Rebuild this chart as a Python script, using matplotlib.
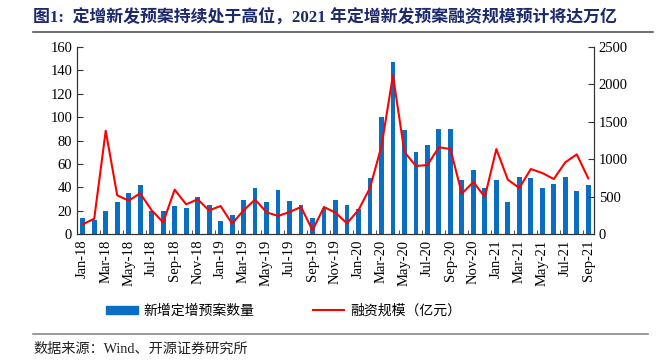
import matplotlib
matplotlib.use("Agg")
import matplotlib.pyplot as plt
from matplotlib.lines import Line2D
from matplotlib.patches import Patch
import numpy as np

plt.rcParams["font.family"] = ["Liberation Serif", "Noto Sans CJK SC"]

# =============================================================================
# Data
# =============================================================================
months = ["Jan-18", "Feb-18", "Mar-18", "Apr-18", "May-18", "Jun-18",
          "Jul-18", "Aug-18", "Sep-18", "Oct-18", "Nov-18", "Dec-18",
          "Jan-19", "Feb-19", "Mar-19", "Apr-19", "May-19", "Jun-19",
          "Jul-19", "Aug-19", "Sep-19", "Oct-19", "Nov-19", "Dec-19",
          "Jan-20", "Feb-20", "Mar-20", "Apr-20", "May-20", "Jun-20",
          "Jul-20", "Aug-20", "Sep-20", "Oct-20", "Nov-20", "Dec-20",
          "Jan-21", "Feb-21", "Mar-21", "Apr-21", "May-21", "Jun-21",
          "Jul-21", "Aug-21", "Sep-21"]
n_plans = [14, 12, 20, 27, 35, 42, 20, 20, 24, 22, 32, 25,
           11, 16, 29, 39, 27, 38, 28, 25, 14, 22, 29, 25,
           21, 48, 100, 147, 89, 70, 76, 90, 90, 46, 55, 39,
           46, 27, 49, 48, 39, 43, 49, 37, 42]
amount = [130, 205, 1380, 517, 446, 544, 316, 156, 593, 397, 463, 316,
          374, 138, 316, 460, 290, 241, 294, 361, 49, 361, 285, 143,
          321, 615, 1172, 2121, 1096, 909, 922, 1160, 1136, 539, 695, 495,
          1136, 726, 615, 869, 815, 735, 958, 1065, 744]

title = "图1:  定增新发预案持续处于高位，2021 年定增新发预案融资规模预计将达万亿"
source = "数据来源：Wind、开源证券研究所"
bar_label = "新增定增预案数量"
line_label = "融资规模（亿元）"

# =============================================================================
# Plot
# =============================================================================
fig = plt.figure(figsize=(6.59, 3.61), dpi=100)
ax = fig.add_axes([77 / 659, 1 - 234 / 361, 517 / 659, 187 / 361])
ax2 = ax.twinx()

x = np.arange(len(months))
bar_color = "#0a6fc2"
ax.bar(x, n_plans, width=0.42, color=bar_color, zorder=2)
ax2.plot(x, amount, color="#ff0000", lw=1.5, zorder=3)

ax.set_xlim(-0.5, len(months) - 0.5)
ax.set_ylim(0, 160)
ax.set_yticks(np.arange(0, 161, 20))
ax2.set_ylim(0, 2500)
ax2.set_yticks(np.arange(0, 2501, 500))

ax.set_xticks(x[::2])
ax.set_xticklabels(months[::2], rotation=90, fontsize=10.5)
ax.set_xticks(np.arange(1.5, len(months) - 1, 2), minor=True)
ax.tick_params(axis="x", which="major", length=0, pad=4)
ax.tick_params(axis="x", which="minor", direction="in", length=3,
               color="#333333")
ax.tick_params(axis="y", direction="in", length=4, labelsize=10.5,
               color="#333333")
ax2.tick_params(axis="y", direction="in", length=4, labelsize=10.5,
                color="#333333")

for a in (ax, ax2):
    a.spines["top"].set_visible(False)
    for s in ("left", "right", "bottom"):
        a.spines[s].set_color("#333333")
        a.spines[s].set_linewidth(0.8)

handles = [Patch(color=bar_color),
           Line2D([], [], color="#ff0000", lw=1.5)]
fig.legend(handles, [bar_label, line_label], loc="center",
           bbox_to_anchor=(0.43, 0.138), ncol=2, frameon=False,
           fontsize=10, handlelength=2.3, handleheight=0.5,
           columnspacing=4.2, handletextpad=0.4)

# title, rules and source
fig.text(33 / 659, 1 - 17 / 361, title, fontsize=12.2, fontweight="bold",
         color="#1c2a6b", va="center", ha="left")
fig.add_artist(Line2D([33 / 659, 653 / 659], [1 - 32 / 361, 1 - 32 / 361],
                      color="#555555", lw=1.2))
fig.add_artist(Line2D([33 / 659, 648 / 659], [1 - 334 / 361, 1 - 334 / 361],
                      color="#888888", lw=1.2))
fig.text(33 / 659, 1 - 349 / 361, source, fontsize=10.2, color="#222222",
         va="center", ha="left")

fig.savefig("out.png", dpi=100)
